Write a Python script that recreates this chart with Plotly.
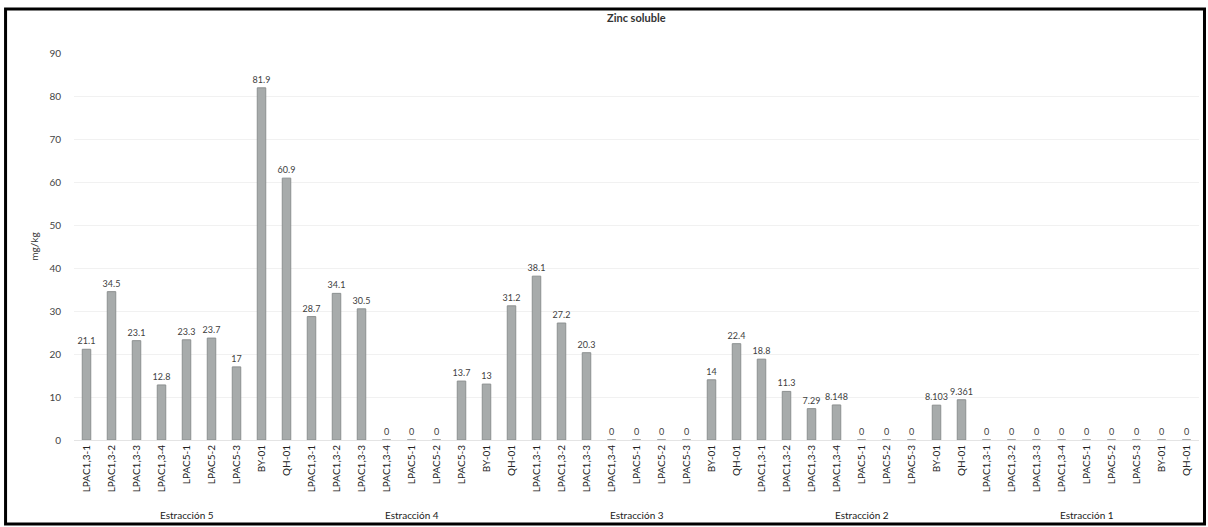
import plotly.graph_objects as go

groups = ["Estracción 5", "Estracción 4", "Estracción 3", "Estracción 2", "Estracción 1"]
samples = ["LPAC1,3-1", "LPAC1,3-2", "LPAC1,3-3", "LPAC1,3-4",
           "LPAC5-1", "LPAC5-2", "LPAC5-3", "BY-01", "QH-01"]

estraccion_5 = [21.1, 34.5, 23.1, 12.8, 23.3, 23.7, 17, 81.9, 60.9]
estraccion_4 = [28.7, 34.1, 30.5, 0, 0, 0, 13.7, 13, 31.2]
estraccion_3 = [38.1, 27.2, 20.3, 0, 0, 0, 0, 14, 22.4]
estraccion_2 = [18.8, 11.3, 7.29, 8.148, 0, 0, 0, 8.103, 9.361]
estraccion_1 = [0, 0, 0, 0, 0, 0, 0, 0, 0]

series = [estraccion_5, estraccion_4, estraccion_3, estraccion_2, estraccion_1]

values = [v for s in series for v in s]
labels = [c for _ in groups for c in samples]
xs = list(range(len(values)))
texts = [f"{v:g}" for v in values]

W, H = 1208, 527
ML, MR, MT, MB = 73.5, 8.5, 53, 87
pw, ph = W - ML - MR, H - MT - MB

font = "Lato, 'Open Sans', sans-serif"

fig = go.Figure(go.Bar(
    x=xs, y=values, text=texts, textposition="outside",
    constraintext="none",
    textfont=dict(size=9, color="#404040", family=font),
    marker=dict(color="#a7abab", line=dict(color="#8c9090", width=1)),
    width=0.34, cliponaxis=False, hoverinfo="skip",
))

n = len(samples)
annotations = []
for gi, g in enumerate(groups):
    annotations.append(dict(
        x=gi * n + (n - 1) / 2, y=(440 - 515) / ph, xref="x", yref="paper",
        text=g, showarrow=False, font=dict(size=10, color="#222", family=font),
        xanchor="center", yanchor="middle"))
annotations.append(dict(
    x=0.5, y=(440 - 17) / ph, xref="paper", yref="paper", text="<b>Zinc soluble</b>",
    showarrow=False, font=dict(size=11, color="#333", family=font),
    xanchor="center", yanchor="middle"))

def px_x(p):
    return (p - ML) / pw

def px_y(p):
    return (H - MB - p) / ph

fig.update_layout(
    width=W, height=H,
    margin=dict(l=ML, r=MR, t=MT, b=MB, pad=0),
    paper_bgcolor="white", plot_bgcolor="white",
    showlegend=False,
    font=dict(family=font),
    xaxis=dict(
        range=[-0.5, len(values) - 0.5],
        tickmode="array", tickvals=xs, ticktext=labels,
        tickangle=-90, tickfont=dict(size=10, color="#222", family=font),
        showgrid=False, zeroline=False, showline=True, linecolor="#e4e4e4",
        ticks="", fixedrange=True,
    ),
    yaxis=dict(
        range=[0, 90], dtick=10,
        tickfont=dict(size=10, color="#444", family=font),
        showgrid=True, gridcolor="#f1f1f1", zeroline=False,
        ticks="", ticklabelstandoff=12,
        title=dict(text="mg/kg", font=dict(size=10, color="#333", family=font), standoff=8),
    ),
    annotations=annotations,
    shapes=[dict(type="rect", xref="paper", yref="paper",
                 x0=px_x(5), x1=px_x(1205), y0=px_y(524), y1=px_y(9),
                 line=dict(color="black", width=3), fillcolor="rgba(0,0,0,0)")],
)

fig.write_html("out.html", config={"displayModeBar": False},
               post_script="document.body.style.margin='0';")
